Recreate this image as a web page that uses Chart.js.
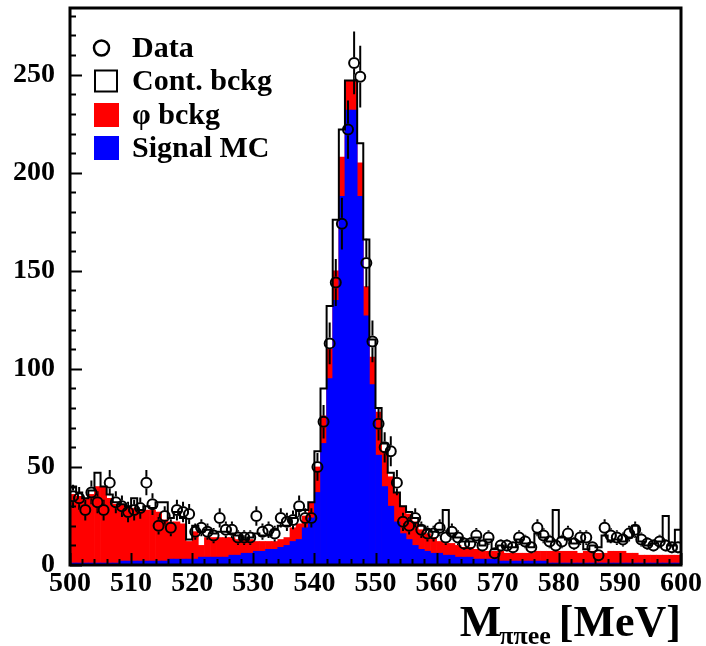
<!DOCTYPE html>
<html><head><meta charset="utf-8">
<script src="https://cdn.jsdelivr.net/npm/chart.js@4.4.0/dist/chart.umd.min.js"></script>
<style>html,body{margin:0;padding:0;background:#fff;}</style>
</head><body>
<canvas id="c" width="706" height="646"></canvas>
<script>
// Bin lower edges (1 MeV bins, 500..599)
const binLow = Array.from({length: 100}, (_, i) => 500 + i);
const binWidth = 1;

// Observed data counts per bin
const dataCounts = [
  35,34,28,37,32,28,42,32,30,27,
  28,29,42,31,20,25,19,28,27,26,
  17,19,17,15,24,18,18,14,14,14,
  25,17,18,16,24,22,23,30,24,24,
  50,73,113,144,174,222,256,249,154,114,
  72,60,58,42,22,20,24,18,16,16,
  19,14,17,14,11,11,15,10,14,6,
  10,10,9,14,12,9,19,15,12,10,
  12,16,11,14,14,9,5,19,15,14,
  13,16,18,13,11,10,12,10,9,9
];
// Signal MC per bin
const signalMC = [
  1,1,1,1,1,1,1,1,2,2,
  2,2,2,2,2,2,3,3,3,3,
  3,4,4,4,4,4,5,5,6,6,
  7,7,8,8,9,10,12,13,19,24,
  37,62,95,135,188,232,232,188,127,92,
  56,40,30,22,16,13,10,8,7,6,
  6,5,5,4,4,4,3,3,3,3,
  2,2,2,2,2,2,2,2,1,1,
  1,1,1,1,1,1,1,1,1,1,
  1,1,1,1,1,1,1,1,1,1
];
// phi background per bin
const phiBckg = [
  35,34,33,35,39,39,33,30,29,28,
  27,26,26,26,25,21,19,19,18,9,
  14,6,10,10,10,10,9,8,7,7,
  5,5,4,4,4,4,7,8,6,8,
  13,14,15,15,20,15,15,17,15,14,
  22,18,15,15,14,13,12,10,9,8,
  6,6,6,6,5,5,5,4,4,4,
  5,4,4,4,4,4,5,5,6,6,
  6,6,6,5,6,6,5,5,6,6,
  6,5,5,4,4,4,4,4,4,4
];
// Continuum background per bin
const contBckg = [
  4,2,0,2,7,0,2,1,0,0,
  5,0,2,1,5,9,2,5,3,1,
  3,7,4,2,3,3,2,2,0,1,
  4,3,3,6,7,6,5,7,3,0,
  8,14,22,26,14,0,0,10,24,9,
  2,4,2,0,0,1,2,2,2,3,
  6,17,5,4,3,3,6,3,6,1,
  3,3,3,7,5,3,9,7,5,21,
  7,6,4,6,1,3,3,9,5,6,
  5,8,14,7,5,6,7,20,5,13
];
const xTickValues = [500,510,520,530,540,550,560,570,580,590,600];
const yTickValues = [0,50,100,150,200,250];
const legendLabels = ['Data', 'Cont. bckg', '\u03c6 bckg', 'Signal MC'];
const xTitleMain = 'M', xTitleSub = '\u03c0\u03c0ee', xTitleUnit = '[MeV]';

// Build plotting structures from the arrays
const centers = binLow.map(b => b + binWidth / 2);
const blueTop = signalMC.slice();
const redTop = signalMC.map((v, i) => v + phiBckg[i]);
const totTop = redTop.map((v, i) => v + contBckg[i]);
const outline = [{x: binLow[0], y: 0}];
binLow.forEach((b, i) => { outline.push({x: b, y: totTop[i]}); outline.push({x: b + binWidth, y: totTop[i]}); });
outline.push({x: binLow[binLow.length - 1] + binWidth, y: 0});

const serif = '"Liberation Serif", "Times New Roman", serif';
const markerR = 5;

const framePlugin = {
  id: 'frameTicks',
  beforeDatasetDraw(chart, args) {
    if (args.index === 1) {
      const ctx = chart.ctx;
      const pts = chart.getDatasetMeta(0).data;
      const r = markerR + 1;
      ctx.save();
      ctx.beginPath();
      ctx.rect(0, 0, chart.width, chart.height);
      pts.forEach(p => { ctx.moveTo(p.x + r, p.y); ctx.arc(p.x, p.y, r, 0, Math.PI * 2); });
      ctx.clip('evenodd');
    }
  },
  afterDatasetDraw(chart, args) {
    if (args.index === 1) chart.ctx.restore();
  },
  afterDraw(chart) {
    const ctx = chart.ctx, a = chart.chartArea;
    const xs = chart.scales.x, ys = chart.scales.y;
    ctx.save();
    ctx.strokeStyle = '#000';
    ctx.lineWidth = 2;
    ctx.beginPath();
    for (let v = 0; v <= 280; v += 10) {
      const y = Math.round(ys.getPixelForValue(v)) + 0.5;
      const len = v % 50 === 0 ? 12 : 6;
      ctx.moveTo(a.left, y); ctx.lineTo(a.left + len, y);
    }
    for (let v = 500; v <= 600; v += 2) {
      const x = Math.round(xs.getPixelForValue(v)) + 0.5;
      const len = v % 10 === 0 ? 12 : 6;
      ctx.moveTo(x, a.bottom); ctx.lineTo(x, a.bottom - len);
    }
    ctx.stroke();
    ctx.lineWidth = 3;
    ctx.strokeRect(a.left, a.top, a.right - a.left, a.bottom - a.top);

    // legend
    const lx = a.left + 24;
    const rows = [a.top + 40, a.top + 73, a.top + 107, a.top + 140];
    ctx.lineWidth = 2.5;
    ctx.beginPath(); ctx.arc(lx + 7.5, rows[0], 7.5, 0, Math.PI * 2); ctx.stroke();
    ctx.lineWidth = 2;
    ctx.fillStyle = '#fff'; ctx.fillRect(lx + 1, rows[1] - 10.5, 22, 21);
    ctx.strokeRect(lx + 1, rows[1] - 10.5, 22, 21);
    ctx.fillStyle = '#ff0000'; ctx.fillRect(lx, rows[2] - 12, 25, 24);
    ctx.fillStyle = '#0000ff'; ctx.fillRect(lx, rows[3] - 12, 25, 24);
    ctx.fillStyle = '#000';
    ctx.font = 'bold 30px ' + serif;
    ctx.textBaseline = 'middle';
    ctx.textAlign = 'left';
    legendLabels.forEach((t, i) => ctx.fillText(t, lx + 38, rows[i] + 1));

    // x axis title
    ctx.textBaseline = 'alphabetic';
    ctx.font = 'bold 44px ' + serif;
    const unitW = ctx.measureText(xTitleUnit).width;
    const mW = ctx.measureText(xTitleMain).width;
    ctx.font = 'bold 26px ' + serif;
    const subW = ctx.measureText(xTitleSub).width;
    const right = a.right;
    const xU = right - unitW;
    const xSub = xU - 8 - subW;
    const xM = xSub - mW + 2;
    ctx.fillText(xTitleSub, xSub, 644);
    ctx.font = 'bold 44px ' + serif;
    ctx.fillText(xTitleMain, xM, 636);
    ctx.fillText(xTitleUnit, xU, 636);
    ctx.restore();
  }
};

const tickFont = {family: serif, weight: 'bold', size: 28};

new Chart(document.getElementById('c'), {
  type: 'bar',
  data: {
    datasets: [
      {type: 'line', label: 'Data', data: centers.map((x, i) => ({x, y: dataCounts[i]})),
       showLine: false, pointRadius: markerR, pointBorderWidth: 2, pointBorderColor: '#000',
       pointBackgroundColor: 'rgba(0,0,0,0)', order: 0},
      {type: 'bar', label: 'err', data: centers.map((x, i) => ({x, y: [dataCounts[i] - Math.sqrt(dataCounts[i]), dataCounts[i] + Math.sqrt(dataCounts[i])]})),
       backgroundColor: '#000', barThickness: 2, grouped: false, inflateAmount: 0, order: 1},
      {type: 'line', label: 'outline', data: outline, borderColor: '#000', borderWidth: 2,
       pointRadius: 0, fill: false, tension: 0, order: 2},
      {type: 'bar', label: 'Signal MC', data: centers.map((x, i) => ({x, y: blueTop[i]})),
       backgroundColor: '#0000ff', borderWidth: 0, grouped: false, categoryPercentage: 1, barPercentage: 1, order: 3},
      {type: 'bar', label: 'phi bckg', data: centers.map((x, i) => ({x, y: redTop[i]})),
       backgroundColor: '#ff0000', borderWidth: 0, grouped: false, categoryPercentage: 1, barPercentage: 1, order: 4},
      {type: 'bar', label: 'Cont. bckg', data: centers.map((x, i) => ({x, y: totTop[i]})),
       backgroundColor: '#ffffff', borderWidth: 0, grouped: false, categoryPercentage: 1, barPercentage: 1, order: 5}
    ]
  },
  options: {
    responsive: false,
    animation: false,
    devicePixelRatio: 1,
    layout: {padding: {top: 8, right: 25, left: 0, bottom: 0}},
    plugins: {legend: {display: false}, tooltip: {enabled: false}},
    scales: {
      x: {type: 'linear', min: 500, max: 600, offset: false,
          grid: {display: false, drawTicks: false, offset: false}, border: {display: false},
          afterBuildTicks: s => { s.ticks = xTickValues.map(v => ({value: v})); },
          ticks: {font: tickFont, color: '#000', padding: 2, maxRotation: 0, autoSkip: false},
          afterFit: s => { s.height = 81; s.paddingLeft = 0; s.paddingRight = 0; }},
      y: {min: 0, max: 284,
          grid: {display: false, drawTicks: false}, border: {display: false},
          afterBuildTicks: s => { s.ticks = yTickValues.map(v => ({value: v})); },
          ticks: {font: tickFont, color: '#000', padding: 15},
          afterFit: s => { s.width = 70; s.paddingTop = 0; s.paddingBottom = 0; }}
    }
  },
  plugins: [framePlugin]
});
</script>
</body></html>
